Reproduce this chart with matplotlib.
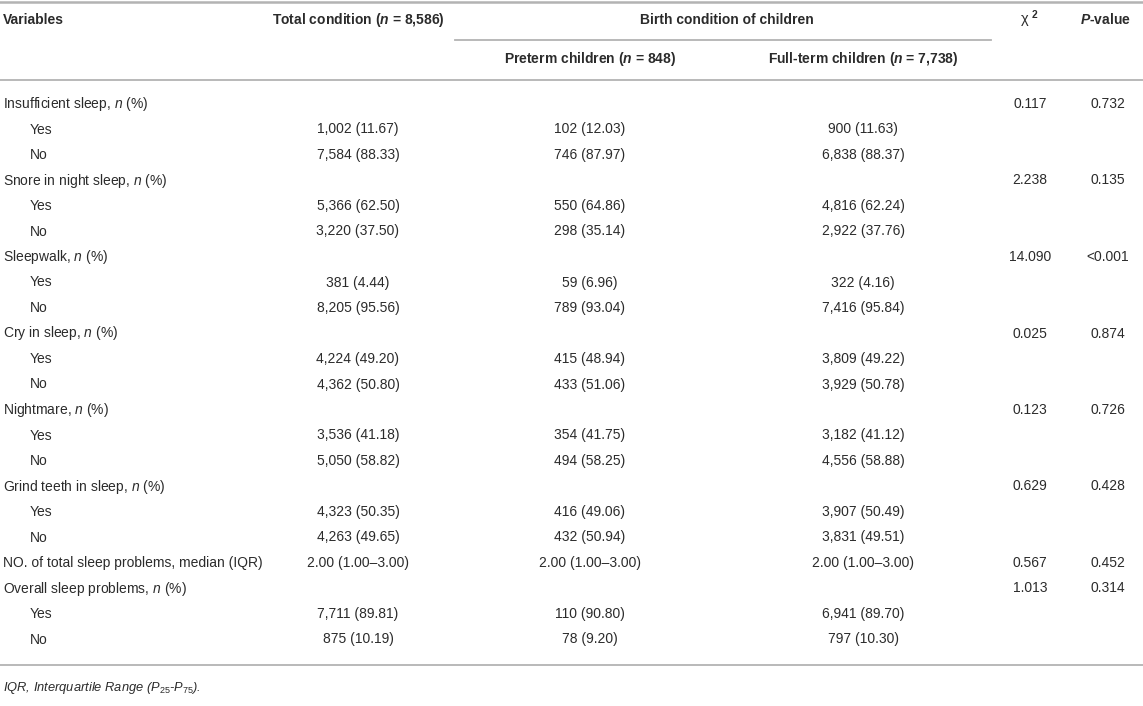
import matplotlib
matplotlib.use("Agg")
import matplotlib.pyplot as plt

plt.rcParams["font.family"] = ["Liberation Sans", "DejaVu Sans"]
plt.rcParams["mathtext.fontset"] = "custom"
plt.rcParams["mathtext.rm"] = "Liberation Sans"
plt.rcParams["mathtext.it"] = "Liberation Sans:italic"
plt.rcParams["mathtext.bf"] = "Liberation Sans:bold"
plt.rcParams["mathtext.bfit"] = "Liberation Sans:italic:bold"

# --- table content ---
variables = [
    r"Insufficient sleep, $\mathit{n}$ (%)", "Yes", "No",
    r"Snore in night sleep, $\mathit{n}$ (%)", "Yes", "No",
    r"Sleepwalk, $\mathit{n}$ (%)", "Yes", "No",
    r"Cry in sleep, $\mathit{n}$ (%)", "Yes", "No",
    r"Nightmare, $\mathit{n}$ (%)", "Yes", "No",
    r"Grind teeth in sleep, $\mathit{n}$ (%)", "Yes", "No",
    "NO. of total sleep problems, median (IQR)",
    r"Overall sleep problems, $\mathit{n}$ (%)", "Yes", "No",
]
indented = [False, True, True, False, True, True, False, True, True,
            False, True, True, False, True, True, False, True, True,
            False, False, True, True]
total = ["", "1,002 (11.67)", "7,584 (88.33)",
         "", "5,366 (62.50)", "3,220 (37.50)",
         "", "381 (4.44)", "8,205 (95.56)",
         "", "4,224 (49.20)", "4,362 (50.80)",
         "", "3,536 (41.18)", "5,050 (58.82)",
         "", "4,323 (50.35)", "4,263 (49.65)",
         "2.00 (1.00–3.00)",
         "", "7,711 (89.81)", "875 (10.19)"]
preterm = ["", "102 (12.03)", "746 (87.97)",
           "", "550 (64.86)", "298 (35.14)",
           "", "59 (6.96)", "789 (93.04)",
           "", "415 (48.94)", "433 (51.06)",
           "", "354 (41.75)", "494 (58.25)",
           "", "416 (49.06)", "432 (50.94)",
           "2.00 (1.00–3.00)",
           "", "110 (90.80)", "78 (9.20)"]
fullterm = ["", "900 (11.63)", "6,838 (88.37)",
            "", "4,816 (62.24)", "2,922 (37.76)",
            "", "322 (4.16)", "7,416 (95.84)",
            "", "3,809 (49.22)", "3,929 (50.78)",
            "", "3,182 (41.12)", "4,556 (58.88)",
            "", "3,907 (50.49)", "3,831 (49.51)",
            "2.00 (1.00–3.00)",
            "", "6,941 (89.70)", "797 (10.30)"]
chi2 = ["0.117", "", "", "2.238", "", "", "14.090", "", "",
        "0.025", "", "", "0.123", "", "", "0.629", "", "",
        "0.567", "1.013", "", ""]
pvalue = ["0.732", "", "", "0.135", "", "", "<0.001", "", "",
          "0.874", "", "", "0.726", "", "", "0.428", "", "",
          "0.452", "0.314", "", ""]

header_total = r"Total condition ($\mathbfit{n}$ = 8,586)"
header_group = "Birth condition of children"
header_preterm = r"Preterm children ($\mathbfit{n}$ = 848)"
header_fullterm = r"Full-term children ($\mathbfit{n}$ = 7,738)"
header_chi = r"χ $^{\mathbf{2}}$"
header_p = r"$\mathbfit{P}$-value"
footnote = r"IQR, Interquartile Range ($P_{25}$-$P_{75}$)."

# --- layout (pixel space) ---
W, H = 1143, 706
col_x = {"var": 3, "indent": 30, "total": 358, "pre": 590,
         "full": 863, "chi": 1030, "p": 1108}
row0, row_step = 104, 25.5
text_color = "#2b2b2b"
line_color = "#b3b3b3"
fs = 10

fig = plt.figure(figsize=(W / 100, H / 100), dpi=100)
ax = fig.add_axes([0, 0, 1, 1])
ax.set_xlim(0, W)
ax.set_ylim(H, 0)
ax.axis("off")


def put(x, y, s, ha="center", size=fs, **kw):
    ax.text(x, y, s, ha=ha, va="center", fontsize=size, color=text_color, **kw)


# header
put(col_x["var"], 20, "Variables", ha="left", fontweight="bold")
put(col_x["total"], 20, header_total, fontweight="bold")
put((col_x["pre"] + col_x["full"]) / 2, 20, header_group, fontweight="bold")
put(col_x["chi"], 19, header_chi, size=10.5)
put(col_x["p"] - 3, 20, header_p, fontweight="bold")
put(col_x["pre"], 59, header_preterm, fontweight="bold")
put(col_x["full"], 59, header_fullterm, fontweight="bold")

ax.plot([0, W], [2, 2], color=line_color, lw=1.8)
ax.plot([455, 991], [40, 40], color=line_color, lw=1.3)
ax.plot([0, W], [80, 80], color=line_color, lw=1.3)
ax.plot([0, W], [665, 665], color=line_color, lw=1.3)

for i, label in enumerate(variables):
    y = row0 + i * row_step
    put(col_x["indent"] if indented[i] else col_x["var"], y, label, ha="left")
    put(col_x["total"], y, total[i])
    put(col_x["pre"], y, preterm[i])
    put(col_x["full"], y, fullterm[i])
    put(col_x["chi"], y, chi2[i])
    put(col_x["p"], y, pvalue[i])

put(col_x["var"], 688, footnote, ha="left", style="italic", size=9.3)

fig.savefig("out.png", dpi=100)
